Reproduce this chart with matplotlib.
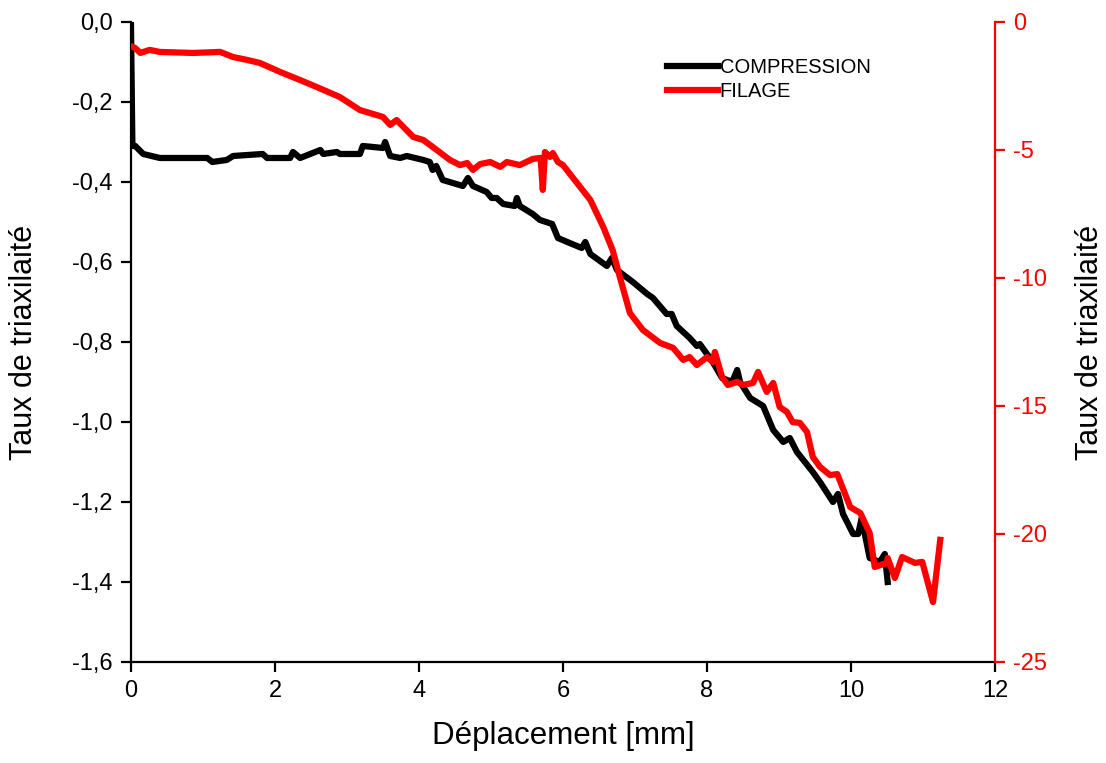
import numpy as np
import matplotlib
matplotlib.use("Agg")
import matplotlib.pyplot as plt
from matplotlib.ticker import FuncFormatter

plt.rcParams['font.family'] = ['Liberation Sans', 'DejaVu Sans']
plt.rcParams['axes.unicode_minus'] = False

# Courbe COMPRESSION (axe gauche)
comp_x = [0.0, 0.02, 0.06, 0.17, 0.40, 1.06, 1.13, 1.33, 1.42, 1.83, 1.89, 2.21, 2.25, 2.35,
          2.63, 2.67, 2.86, 2.90, 3.18, 3.22, 3.50, 3.53, 3.60, 3.74, 3.83, 4.06, 4.15, 4.19,
          4.24, 4.33, 4.61, 4.68, 4.75, 4.94, 5.01, 5.08, 5.17, 5.33, 5.36, 5.40, 5.58, 5.68,
          5.85, 5.93, 6.06, 6.26, 6.31, 6.38, 6.61, 6.68, 6.75, 6.97, 7.17, 7.25, 7.44, 7.51,
          7.58, 7.76, 7.86, 7.90, 8.08, 8.21, 8.35, 8.42, 8.46, 8.60, 8.78, 8.92, 9.06, 9.15,
          9.25, 9.47, 9.57, 9.75, 9.82, 9.89, 10.03, 10.10, 10.15, 10.17, 10.26, 10.40, 10.47,
          10.51]
comp_y = [0.0, -0.31, -0.31, -0.33, -0.34, -0.34, -0.35, -0.345, -0.335, -0.33, -0.34, -0.34,
          -0.325, -0.34, -0.32, -0.33, -0.325, -0.33, -0.33, -0.31, -0.315, -0.30, -0.335,
          -0.34, -0.335, -0.345, -0.35, -0.37, -0.36, -0.395, -0.41, -0.39, -0.41, -0.425,
          -0.44, -0.44, -0.455, -0.46, -0.44, -0.46, -0.48, -0.495, -0.505, -0.54, -0.55,
          -0.565, -0.55, -0.58, -0.61, -0.59, -0.62, -0.65, -0.68, -0.69, -0.73, -0.73, -0.76,
          -0.79, -0.81, -0.805, -0.85, -0.89, -0.90, -0.87, -0.90, -0.94, -0.96, -1.02, -1.05,
          -1.04, -1.075, -1.125, -1.15, -1.20, -1.18, -1.23, -1.28, -1.28, -1.24, -1.26, -1.34,
          -1.35, -1.33, -1.40]

# Courbe FILAGE (axe droit)
fil_x = [0.03, 0.06, 0.13, 0.26, 0.40, 0.86, 1.24, 1.42, 1.61, 1.79, 2.07, 2.35, 2.58, 2.90,
         3.18, 3.50, 3.60, 3.69, 3.92, 4.06, 4.19, 4.43, 4.57, 4.67, 4.75, 4.85, 4.99, 5.13,
         5.22, 5.40, 5.58, 5.69, 5.72, 5.75, 5.82, 5.86, 5.93, 6.00, 6.24, 6.38, 6.56, 6.69,
         6.79, 6.93, 7.11, 7.35, 7.53, 7.67, 7.76, 7.86, 8.00, 8.08, 8.11, 8.21, 8.29, 8.42,
         8.50, 8.64, 8.71, 8.83, 8.92, 9.01, 9.11, 9.19, 9.29, 9.39, 9.47, 9.57, 9.71, 9.81,
         9.99, 10.13, 10.26, 10.33, 10.50, 10.51, 10.61, 10.71, 10.89, 10.99, 11.14, 11.24]
fil_y = [-0.98, -1.02, -1.21, -1.09, -1.17, -1.21, -1.17, -1.37, -1.48, -1.60, -1.95, -2.27,
         -2.54, -2.93, -3.44, -3.71, -4.02, -3.83, -4.49, -4.61, -4.88, -5.39, -5.59, -5.51,
         -5.78, -5.55, -5.47, -5.66, -5.47, -5.59, -5.35, -5.31, -6.56, -5.08, -5.27, -5.12,
         -5.47, -5.59, -6.45, -6.95, -8.01, -8.91, -9.96, -11.37, -12.03, -12.54, -12.73,
         -13.20, -13.09, -13.40, -13.09, -13.28, -12.89, -13.87, -14.18, -14.06, -14.18,
         -14.10, -13.67, -14.45, -14.10, -15.04, -15.23, -15.63, -15.66, -16.02, -16.99,
         -17.38, -17.70, -17.66, -18.95, -19.18, -19.96, -21.29, -21.13, -20.94, -21.72,
         -20.90, -21.13, -21.09, -22.66, -20.23]

x_ticks = [0, 2, 4, 6, 8, 10, 12]
left_ticks = [0.0, -0.2, -0.4, -0.6, -0.8, -1.0, -1.2, -1.4, -1.6]
right_ticks = [0, -5, -10, -15, -20, -25]

fig = plt.figure(figsize=(11.06, 7.63), dpi=100)
ax = fig.add_axes([0.1184, 0.1324, 0.7812, 0.8388])
ax2 = ax.twinx()

l1, = ax.plot(comp_x, comp_y, color='black', lw=4.5, label='COMPRESSION', solid_joinstyle='round')
l2, = ax2.plot(fil_x, fil_y, color='red', lw=4.5, label='FILAGE', solid_joinstyle='round')

ax.set_xlim(0, 12)
ax.set_ylim(-1.6, 0.0)
ax2.set_ylim(-25, 0)
ax.set_xticks(x_ticks)
ax.set_yticks(left_ticks)
ax2.set_yticks(right_ticks)
ax.yaxis.set_major_formatter(FuncFormatter(lambda v, p: f"{v:.1f}".replace('.', ',')))

for a in (ax, ax2):
    a.spines['top'].set_visible(False)
ax2.spines['left'].set_visible(False)
ax2.spines['bottom'].set_visible(False)
ax.spines['right'].set_visible(False)
ax2.spines['right'].set_color('red')
for s in ('left', 'bottom'):
    ax.spines[s].set_linewidth(1.6)
ax2.spines['right'].set_linewidth(1.6)

ax.tick_params(axis='both', direction='out', length=7, width=1.6, labelsize=17, pad=6)
ax2.tick_params(axis='y', direction='out', length=7, width=1.6, labelsize=17, colors='red', pad=6)

ax.set_xlabel('Déplacement [mm]', fontsize=22.5, labelpad=14)
ax.set_ylabel('Taux de triaxilaité', fontsize=22, labelpad=24)
ax2.set_ylabel('Taux de triaxilaité', fontsize=22, labelpad=20)

ax.legend(handles=[l1, l2], loc='upper left', bbox_to_anchor=(0.621, 0.943), frameon=False,
          fontsize=14.5, handlelength=2.5, handletextpad=0.1, labelspacing=0.25,
          borderpad=0, borderaxespad=0)

fig.savefig('out.png', dpi=100)
